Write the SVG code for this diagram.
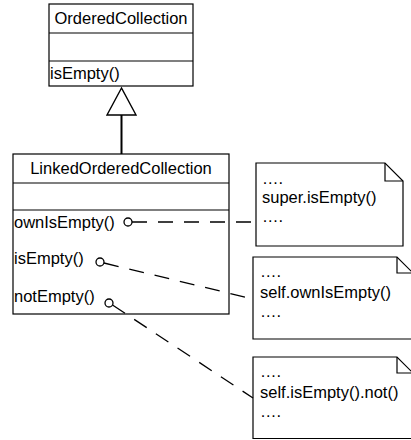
<svg xmlns="http://www.w3.org/2000/svg" width="411" height="440" viewBox="0 0 411 440">
<style>
  .box { fill: #fff; stroke: #000; stroke-width: 1.2; }
  .sep { stroke: #000; stroke-width: 1.2; fill: none; }
  .t { font-family: "Liberation Sans", Arial, sans-serif; font-size: 16.5px; fill: #000; }
  .c { text-anchor: middle; }
  .dash { stroke: #000; stroke-width: 1.3; fill: none; stroke-dasharray: 15 11; }
  .port { fill: #fff; stroke: #000; stroke-width: 1.3; }
  .note { fill: #fff; stroke: #000; stroke-width: 1.2; }
</style>
<rect width="411" height="440" fill="#fff"/>
<g id="OrderedCollection">
  <rect class="box" x="49" y="4" width="144" height="82"/>
  <line class="sep" x1="49" y1="33" x2="193" y2="33"/>
  <line class="sep" x1="49" y1="61" x2="193" y2="61"/>
  <text class="t c" x="121" y="24">OrderedCollection</text>
  <text class="t" x="50" y="79">isEmpty()</text>
</g>
<g id="LinkedOrderedCollection">
  <rect class="box" x="13" y="154" width="216" height="160"/>
  <line class="sep" x1="13" y1="183" x2="229" y2="183"/>
  <line class="sep" x1="13" y1="210" x2="229" y2="210"/>
  <text class="t c" x="121" y="174">LinkedOrderedCollection</text>
  <text class="t" x="14" y="228">ownIsEmpty()</text>
  <text class="t" x="14" y="264">isEmpty()</text>
  <text class="t" x="14" y="302">notEmpty()</text>
</g>
<g id="note1">
  <path class="note" d="M256,163 H385 L403,181 V246 H256 Z"/>
  <path class="sep" d="M385,163 V181 H403"/>
  <text class="t" x="262" y="184">….</text>
  <text class="t" x="262" y="203">super.isEmpty()</text>
  <text class="t" x="262" y="222">….</text>
</g>
<g id="note2">
  <path class="note" d="M253,257 H397 L413,273 V339 H253 Z"/>
  <path class="sep" d="M397,257 V273 H413"/>
  <text class="t" x="260" y="277">….</text>
  <text class="t" x="260" y="298">self.ownIsEmpty()</text>
  <text class="t" x="260" y="317">….</text>
</g>
<g id="note3">
  <path class="note" d="M253,357 H397 L413,373 V438.5 H253 Z"/>
  <path class="sep" d="M397,357 V373 H413"/>
  <text class="t" x="260" y="377">….</text>
  <text class="t" x="260" y="398">self.isEmpty().not()</text>
  <text class="t" x="260" y="417">….</text>
</g>
<g id="connectors">
  <line x1="121.5" y1="115" x2="121.5" y2="154" stroke="#000" stroke-width="2"/>
  <polygon points="121.5,88 107,115 136,115" fill="#fff" stroke="#000" stroke-width="1.4"/>
  <line class="dash" x1="132" y1="222" x2="256" y2="222"/>
  <line class="dash" x1="104" y1="263" x2="253" y2="299"/>
  <line class="dash" x1="112.5" y1="305" x2="253" y2="398"/>
  <circle class="port" cx="128" cy="222" r="4"/>
  <circle class="port" cx="100" cy="262" r="4"/>
  <circle class="port" cx="109" cy="303" r="4"/>
</g>
</svg>
